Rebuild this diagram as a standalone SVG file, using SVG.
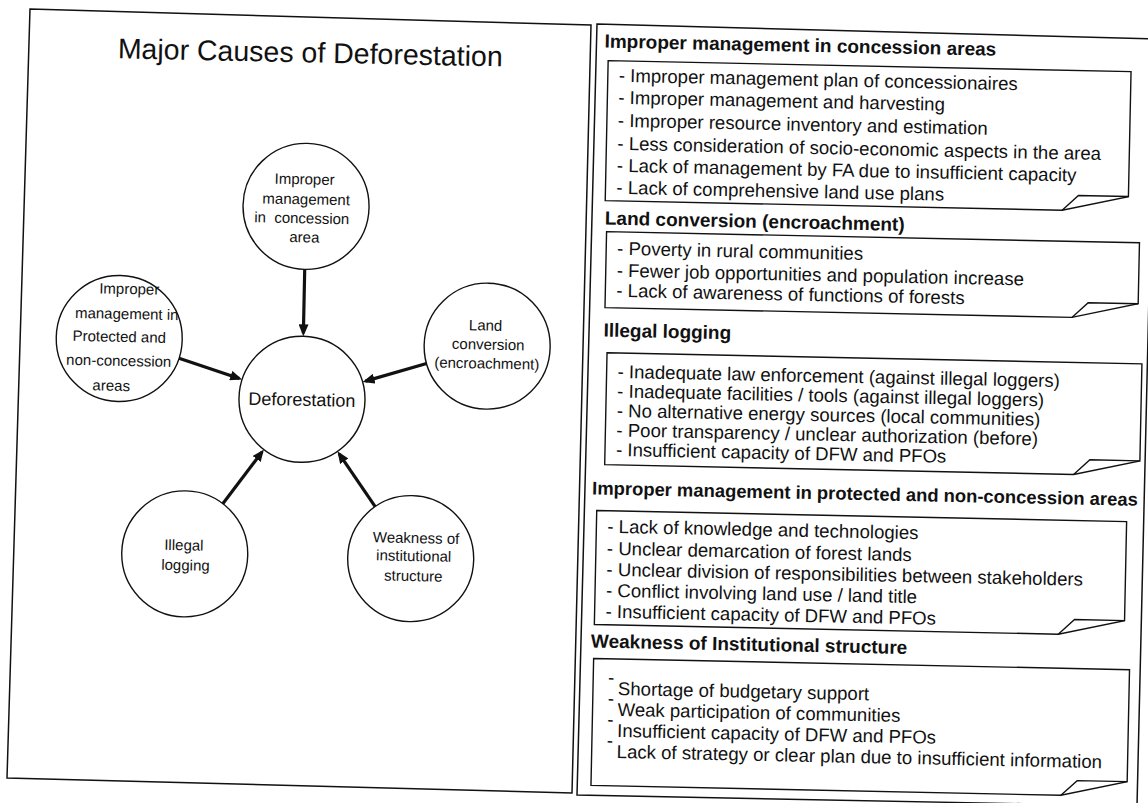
<svg xmlns="http://www.w3.org/2000/svg" width="1148" height="803" viewBox="0 0 1148 803">
<defs>
<marker id="ah" markerUnits="userSpaceOnUse" markerWidth="12" markerHeight="10" refX="9" refY="5" orient="auto"><path d="M0,0 L12,5 L0,10 Z" fill="#111"/></marker>
<style>
.frame{fill:none;stroke:#111;stroke-width:1.5}
.node circle{fill:#fff;stroke:#111;stroke-width:1.4}
.ct{font-family:"Liberation Sans",Arial,Helvetica,sans-serif;font-size:15px;text-anchor:middle;fill:#111}
.dt{font-size:18px}
.title{font-family:"Liberation Sans",Arial,Helvetica,sans-serif;font-size:28.5px;text-anchor:middle;fill:#111}
.hd{font-family:"Liberation Sans",Arial,Helvetica,sans-serif;font-size:19px;font-weight:bold;fill:#111}
.hd4{font-size:18.4px}
.it{font-family:"Liberation Sans",Arial,Helvetica,sans-serif;font-size:18.6px;fill:#111}
.box{fill:#fff;stroke:#111;stroke-width:1.4}
.fold{fill:none;stroke:#111;stroke-width:1.4}
.conn line{stroke:#111;stroke-width:3.2;marker-end:url(#ah)}
</style>
</defs>
<rect width="1148" height="803" fill="#fff"/>
<g id="frames">
<polygon class="frame" points="30,9 591,25 572,793 7,778"/>
<polygon class="frame" points="597,24 1155,39 1137,806 577,795"/>
</g>
<g transform="rotate(1.2 574 402)">
<text class="title" x="303" y="68">Major Causes of Deforestation</text>

<g id="connectors" class="conn">
<line x1="302" y1="275" x2="302" y2="339"/>
<line x1="178.2" y1="366.6" x2="238.9" y2="385.5"/>
<line x1="425.8" y1="366.6" x2="365.1" y2="385.5"/>
<line x1="225" y1="511" x2="263.2" y2="458.4"/>
<line x1="377.4" y1="510.7" x2="340.3" y2="458.7"/>
</g>

<g id="node-concession" class="node">
<circle cx="302" cy="212" r="63"/>
<text class="ct" x="300" y="190">Improper</text>
<text class="ct" x="302" y="210">management</text>
<text class="ct" x="298" y="229" xml:space="preserve">in  concession</text>
<text class="ct" x="301" y="248">area</text>
</g>
<g id="node-deforestation" class="node">
<circle cx="302" cy="405" r="63"/>
<text class="ct dt" x="302" y="411.5">Deforestation</text>
</g>
<g id="node-protected" class="node">
<circle cx="118" cy="348" r="63"/>
<text class="ct" x="127" y="303.4">Improper</text>
<text class="ct" x="125" y="328.4">management in</text>
<text class="ct" x="118" y="351.4">Protected and</text>
<text class="ct" x="118" y="375.4">non-concession</text>
<text class="ct" x="111" y="400.4">areas</text>
</g>
<g id="node-land" class="node">
<circle cx="486" cy="348" r="63"/>
<text class="ct" x="484" y="332.4">Land</text>
<text class="ct" x="487" y="351.4">conversion</text>
<text class="ct" x="486" y="370.4">(encroachment)</text>
</g>
<g id="node-illegal" class="node">
<circle cx="188" cy="562" r="63"/>
<text class="ct" x="187" y="558.4">Illegal</text>
<text class="ct" x="189" y="578.4">logging</text>
</g>
<g id="node-weakness" class="node">
<circle cx="414" cy="562" r="63"/>
<text class="ct" x="419" y="546.4">Weakness of</text>
<text class="ct" x="417" y="564.4">institutional</text>
<text class="ct" x="417" y="584.4">structure</text>
</g>

<g id="box-concession">
<text class="hd" x="597" y="47">Improper management in concession areas</text>
<path class="box" d="M601,60 H1124 V185 L1058,200 H601 Z"/>
<path class="fold" d="M1058,200 L1074,185 L1124,185"/>
<text class="it" x="612" y="81">- Improper management plan of concessionaires</text>
<text class="it" x="612" y="103">- Improper management and harvesting</text>
<text class="it" x="612" y="126">- Improper resource inventory and estimation</text>
<text class="it" x="612" y="149">- Less consideration of socio-economic aspects in the area</text>
<text class="it" x="612" y="171">- Lack of management by FA due to insufficient capacity</text>
<text class="it" x="612" y="193">- Lack of comprehensive land use plans</text>
</g>
<g id="box-land">
<text class="hd" x="601" y="224">Land conversion (encroachment)</text>
<path class="box" d="M603,231 H1136 V292 L1070,307 H603 Z"/>
<path class="fold" d="M1070,307 L1086,292 L1136,292"/>
<text class="it" x="614" y="254">- Poverty in rural communities</text>
<text class="it" x="614" y="276">- Fewer job opportunities and population increase</text>
<text class="it" x="614" y="296">- Lack of awareness of functions of forests</text>
</g>
<g id="box-illegal">
<text class="hd" x="602" y="336">Illegal logging</text>
<path class="box" d="M606,352 H1141 V449 L1075,464 H606 Z"/>
<path class="fold" d="M1075,464 L1091,449 L1141,449"/>
<text class="it" x="617" y="377">- Inadequate law enforcement (against illegal loggers)</text>
<text class="it" x="617" y="396.5">- Inadequate facilities / tools (against illegal loggers)</text>
<text class="it" x="617" y="416">- No alternative energy sources (local communities)</text>
<text class="it" x="617" y="435.5">- Poor transparency / unclear authorization (before)</text>
<text class="it" x="617" y="455">- Insufficient capacity of DFW and PFOs</text>
</g>
<g id="box-protected">
<text class="hd hd4" x="594" y="494">Improper management in protected and non-concession areas</text>
<path class="box" d="M599,510 H1129 V609 L1063,624 H599 Z"/>
<path class="fold" d="M1063,624 L1079,609 L1129,609"/>
<text class="it" x="610" y="532">- Lack of knowledge and technologies</text>
<text class="it" x="610" y="554">- Unclear demarcation of forest lands</text>
<text class="it" x="610" y="575">- Unclear division of responsibilities between stakeholders</text>
<text class="it" x="610" y="596">- Conflict involving land use / land title</text>
<text class="it" x="610" y="617">- Insufficient capacity of DFW and PFOs</text>
</g>
<g id="box-weakness">
<text class="hd" x="596" y="647">Weakness of Institutional structure</text>
<path class="box" d="M599,658 H1135 V770 L1069,785 H599 Z"/>
<path class="fold" d="M1069,785 L1085,770 L1135,770"/>
<text class="it" x="614" y="683">-</text>
<text class="it" x="614" y="704">-</text>
<text class="it" x="614" y="725">-</text>
<text class="it" x="614" y="746">-</text>
<text class="it" x="624" y="694">Shortage of budgetary support</text>
<text class="it" x="624" y="715">Weak participation of communities</text>
<text class="it" x="624" y="736">Insufficient capacity of DFW and PFOs</text>
<text class="it" x="624" y="757">Lack of strategy or clear plan due to insufficient information</text>
</g>
</g>
</svg>
